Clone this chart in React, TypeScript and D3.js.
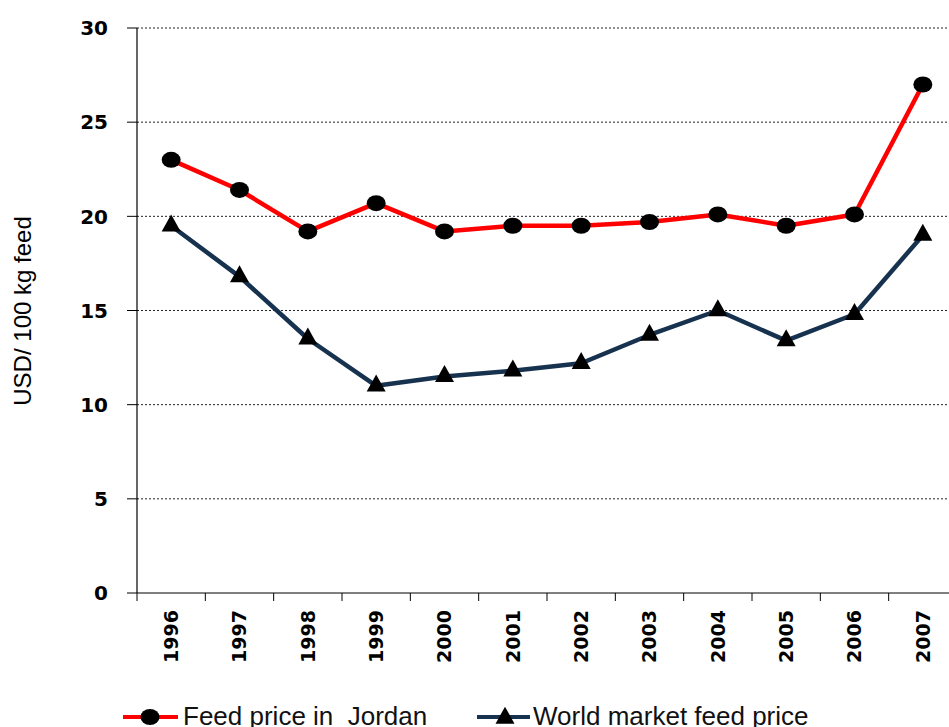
import React from "react";
import * as d3 from "d3";

const years = ["1996", "1997", "1998", "1999", "2000", "2001", "2002", "2003", "2004", "2005", "2006", "2007"];
const jordanPrice = [23.0, 21.4, 19.2, 20.7, 19.2, 19.5, 19.5, 19.7, 20.1, 19.5, 20.1, 27.0];
const worldPrice = [19.5, 16.8, 13.5, 11.0, 11.5, 11.8, 12.2, 13.7, 15.0, 13.4, 14.8, 19.0];
const yTicks = [0, 5, 10, 15, 20, 25, 30];

const W = 949, H = 727;
const left = 137, right = 957, top = 28, bottom = 593;
const red = "#ff0000", navy = "#17324f";

const triPath = (w: number, h: number) =>
  `M0,${-h * 2 / 3}L${w / 2},${h / 3}L${-w / 2},${h / 3}Z`;

export default function App() {
  const x = d3.scaleBand<string>().domain(years).range([left, right]);
  const y = d3.scaleLinear().domain([0, 30]).range([bottom, top]);
  const cx = (d: string) => (x(d) as number) + x.bandwidth() / 2;

  const line = d3.line<number>()
    .x((_, i) => cx(years[i]))
    .y(d => y(d));

  const boldFont = "'DejaVu Sans', Verdana, sans-serif";
  const plainFont = "'Liberation Sans', Arial, sans-serif";

  return (
    <svg width={W} height={H} style={{ position: "absolute", left: 0, top: 0 }}>
      <rect width={W} height={H} fill="#fff" />
      {/* grid + y ticks */}
      {yTicks.map(t => (
        <g key={t}>
          {t > 0 && (
            <line x1={left} x2={W} y1={y(t)} y2={y(t)} stroke="#222" strokeWidth={1} strokeDasharray="2,2" />
          )}
          <line x1={left - 10} x2={left} y1={y(t)} y2={y(t)} stroke="#000" strokeWidth={1} />
          <text x={108} y={y(t)} dy="0.36em" textAnchor="end" fontFamily={boldFont} fontWeight="bold" fontSize={20} fill="#000">
            {t}
          </text>
        </g>
      ))}
      {/* axes */}
      <line x1={left} x2={left} y1={top} y2={bottom} stroke="#000" strokeWidth={1.2} />
      <line x1={left} x2={W} y1={bottom} y2={bottom} stroke="#000" strokeWidth={1.2} />
      {years.map(d => (
        <line key={"t" + d} x1={x(d)} x2={x(d)} y1={bottom} y2={bottom + 8} stroke="#000" strokeWidth={1} />
      ))}
      {years.map(d => (
        <text key={"l" + d} transform={`translate(${cx(d)},610) rotate(-90)`} dy="0.36em" textAnchor="end"
          fontFamily={boldFont} fontWeight="bold" fontSize={19} fill="#000">
          {d}
        </text>
      ))}
      {/* y title */}
      <text transform="translate(23,311) rotate(-90)" dy="0.35em" textAnchor="middle" fontFamily={plainFont} fontSize={24} fill="#000">
        USD/ 100 kg feed
      </text>
      {/* series */}
      <path d={line(jordanPrice) || ""} fill="none" stroke={red} strokeWidth={4.5} strokeLinejoin="round" />
      <path d={line(worldPrice) || ""} fill="none" stroke={navy} strokeWidth={4.5} strokeLinejoin="round" />
      {jordanPrice.map((v, i) => (
        <ellipse key={"c" + i} cx={cx(years[i])} cy={y(v)} rx={9.5} ry={8} fill="#000" />
      ))}
      {worldPrice.map((v, i) => (
        <path key={"m" + i} d={triPath(19, 17)} transform={`translate(${cx(years[i])},${y(v)})`} fill="#000" />
      ))}
      {/* legend */}
      <g>
        <line x1={123} x2={178} y1={717} y2={717} stroke={red} strokeWidth={4} />
        <ellipse cx={150} cy={717} rx={9.5} ry={8} fill="#000" />
        <text x={183} y={725} fontFamily={plainFont} fontSize={26} fill="#111" style={{ whiteSpace: "pre" }}>
          {"Feed price in  Jordan"}
        </text>
        <line x1={477} x2={530} y1={717} y2={717} stroke={navy} strokeWidth={4} />
        <path d={triPath(19, 17)} transform="translate(505,718)" fill="#000" />
        <text x={533} y={725} fontFamily={plainFont} fontSize={26} fill="#111">
          World market feed price
        </text>
      </g>
    </svg>
  );
}
